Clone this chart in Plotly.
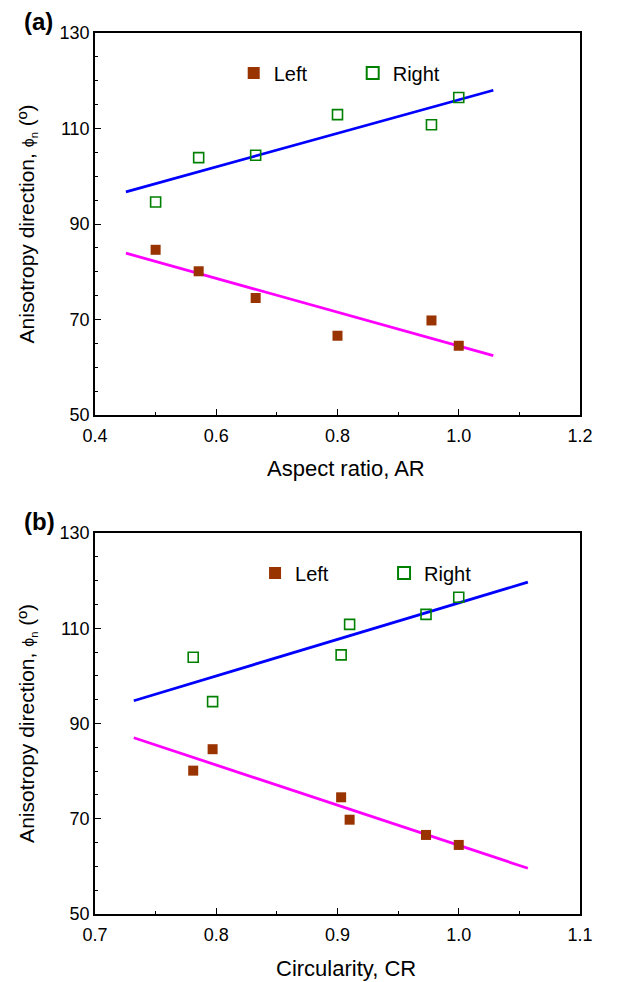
import numpy as np
import plotly.graph_objects as go
from plotly.subplots import make_subplots

# Data (anisotropy direction, degrees) for six particles
aspect_ratio = [0.50, 0.571, 0.665, 0.80, 0.955, 1.00]
circularity = [0.797, 0.781, 0.903, 0.973, 0.910, 1.00]
left_angle = [84.6, 80.1, 74.5, 66.6, 69.8, 64.5]
right_angle = [94.6, 103.9, 104.4, 112.9, 110.8, 116.5]

# x-extent of the fitted lines
ar_fit_range = [0.451, 1.057]
cr_fit_range = [0.732, 1.057]

x_ticks_a = [0.4, 0.6, 0.8, 1.0, 1.2]
x_ticks_b = [0.7, 0.8, 0.9, 1.0, 1.1]
y_ticks = [50, 70, 90, 110, 130]

BROWN = "#993300"
GREEN = "#008000"
FONT = "Liberation Sans, Arial, sans-serif"

fig = make_subplots(rows=2, cols=1, vertical_spacing=0.134)


def fit_line(x, y, xr):
    k, b = np.polyfit(x, y, 1)
    xr = np.array(xr)
    return xr, k * xr + b


for row, xs, xr, leg in [(1, aspect_ratio, ar_fit_range, "legend"),
                         (2, circularity, cr_fit_range, "legend2")]:
    lx, ly = fit_line(xs, left_angle, xr)
    rx, ry = fit_line(xs, right_angle, xr)
    fig.add_trace(go.Scatter(x=lx, y=ly, mode="lines", showlegend=False,
                             line=dict(color="#FF00FF", width=2.8)), row=row, col=1)
    fig.add_trace(go.Scatter(x=rx, y=ry, mode="lines", showlegend=False,
                             line=dict(color="#0000FF", width=2.8)), row=row, col=1)
    fig.add_trace(go.Scatter(x=xs, y=left_angle, mode="markers", name="Left",
                             legend=leg,
                             marker=dict(symbol="square", size=10, color=BROWN,
                                         line=dict(width=0))), row=row, col=1)
    fig.add_trace(go.Scatter(x=xs, y=right_angle, mode="markers", name="Right",
                             legend=leg,
                             marker=dict(symbol="square-open", size=10, color=GREEN,
                                         line=dict(width=1.6, color=GREEN))), row=row, col=1)

axis_common = dict(showline=True, linecolor="black", linewidth=1.5, mirror=True,
                   ticks="inside", ticklen=6, tickwidth=1.2, tickcolor="black",
                   showgrid=False, zeroline=False,
                   tickfont=dict(family=FONT, size=18, color="black"))

fig.update_xaxes(**axis_common)
fig.update_yaxes(**axis_common)

fig.update_xaxes(range=[0.4, 1.2], tickvals=x_ticks_a, tickformat=".1f", ticklabelstandoff=4,
                 minor=dict(dtick=0.1, ticks="inside", ticklen=3, tickcolor="black", tick0=0.4),
                 row=1, col=1)
fig.update_xaxes(range=[0.7, 1.1], tickvals=x_ticks_b, tickformat=".1f", ticklabelstandoff=4,
                 minor=dict(dtick=0.05, ticks="inside", ticklen=3, tickcolor="black", tick0=0.7),
                 row=2, col=1)

ytitle = "Anisotropy direction, <span style='font-size:16px'>ϕ<sub>n</sub></span> (º)"
for r in (1, 2):
    fig.update_yaxes(range=[50, 130], tickvals=y_ticks,
                     minor=dict(dtick=5, ticks="inside", ticklen=3, tickcolor="black", tick0=50),
                     title=dict(text=ytitle, standoff=19,
                                font=dict(family=FONT, size=21, color="black")),
                     row=r, col=1)

fig.update_yaxes(domain=[0.5664, 1.0], row=1, col=1)
fig.update_yaxes(domain=[0.0, 0.4325], row=2, col=1)

legend_style = dict(orientation="h", bgcolor="rgba(0,0,0,0)", borderwidth=0,
                    font=dict(family=FONT, size=20, color="black"),
                    xanchor="left", yanchor="middle", itemwidth=30,
                    itemsizing="constant")

title_font = dict(family=FONT, size=22, color="black")

fig.update_layout(
    width=644, height=982,
    margin=dict(l=95, r=64, t=33, b=68),
    plot_bgcolor="white", paper_bgcolor="white",
    legend=dict(x=0.286, y=0.9546, entrywidth=74, **legend_style),
    legend2=dict(x=0.330, y=0.387, entrywidth=84, **legend_style),
    annotations=[
        dict(text="<b>(a)</b>", xref="paper", yref="paper", x=-0.1505, y=1.0125,
             xanchor="left", yanchor="middle", showarrow=False,
             font=dict(family=FONT, size=24, color="black")),
        dict(text="<b>(b)</b>", xref="paper", yref="paper", x=-0.1505, y=0.446,
             xanchor="left", yanchor="middle", showarrow=False,
             font=dict(family=FONT, size=24, color="black")),
        dict(text="Aspect ratio, AR", xref="paper", yref="paper", x=0.5165, y=0.5062,
             xanchor="center", yanchor="middle", showarrow=False, font=title_font),
        dict(text="Circularity, CR", xref="paper", yref="paper", x=0.5165, y=-0.0613,
             xanchor="center", yanchor="middle", showarrow=False, font=title_font),
    ],
)

fig.write_html("out.html")
